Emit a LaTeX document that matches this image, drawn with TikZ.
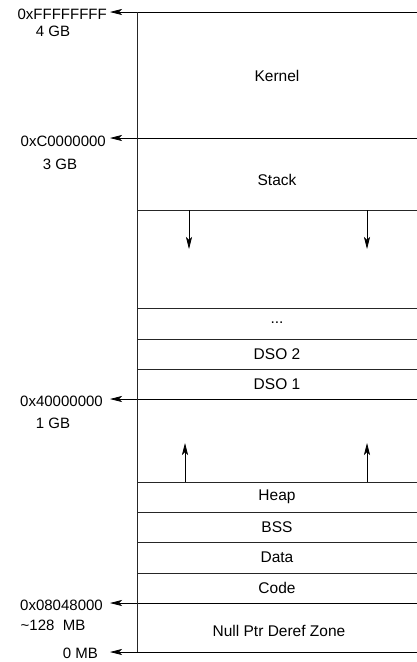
\documentclass[tikz,border=0pt]{standalone}
\usepackage{fontspec}
\setmainfont{Liberation Sans}
\usetikzlibrary{arrows.meta}

\begin{document}
\begin{tikzpicture}[x=1pt, y=-1pt,
      seg/.style={font=\fontsize{15.5}{18}\selectfont, inner sep=0pt},
      addr/.style={font=\fontsize{15}{18}\selectfont, inner sep=0pt, anchor=east},
      size/.style={font=\fontsize{15}{18}\selectfont, inner sep=0pt},
      bound/.style={draw=black!85, line width=0.7pt},
      ptr/.style={-{Stealth[length=12pt, width=6pt, inset=3pt]}, draw=black, line width=0.7pt}]
    \useasboundingbox (0,0) rectangle (417,662);
    % address marks on the left
    \node[addr] (top) at (107,14) {0xFFFFFFFF};
    \node[size] (top4) at (53,31) {4 GB};
    \node[addr] (kern) at (106,141) {0xC0000000};
    \node[size] (kern3) at (60,164) {3 GB};
    \node[addr] (mid) at (103,401) {0x40000000};
    \node[size] (mid1) at (53,423) {1 GB};
    \node[addr] (text) at (103,605) {0x08048000};
    \node[size] (text128) at (53,625) {\textasciitilde128\ \ MB};
    \node[addr] (zero) at (98,653) {0 MB};
    \coordinate (r0) at (417,12);  \coordinate (t0) at (110,12);
    \coordinate (r1) at (417,138); \coordinate (t1) at (110,138);
    \coordinate (r2) at (417,399); \coordinate (t2) at (110,399);
    \coordinate (r3) at (417,603); \coordinate (t3) at (110,603);
    \coordinate (r4) at (417,652); \coordinate (t4) at (110,652);
    \foreach \i in {0,...,4}
      \draw[ptr] (r\i) -- (t\i);
    \draw[bound] (137,12) -- (137,652);
    % segments
    \foreach \y in {210,308,339,369,482,512,542,573}
      \draw[bound] (137,\y) -- (417,\y);
    \node[seg] (kernel) at (277,76) {Kernel};
    \node[seg] (stack) at (277,180) {Stack};
    \node[seg] (more) at (277,323) {...};
    \node[seg] (dso2) at (277,354) {DSO 2};
    \node[seg] (dso1) at (277,384) {DSO 1};
    \node[seg] (heap) at (277,497) {Heap};
    \node[seg] (bss) at (277,527) {BSS};
    \node[seg] (data) at (277,557) {Data};
    \node[seg] (code) at (277,588) {Code};
    \node[seg] (null) at (279,631) {Null Ptr Deref Zone};
    % growth
    \foreach \x in {189,367}
      \draw[ptr] (\x,210) -- (\x,249);
    \foreach \x in {185,367}
      \draw[ptr] (\x,482) -- (\x,443);
  \end{tikzpicture}
\end{document}
